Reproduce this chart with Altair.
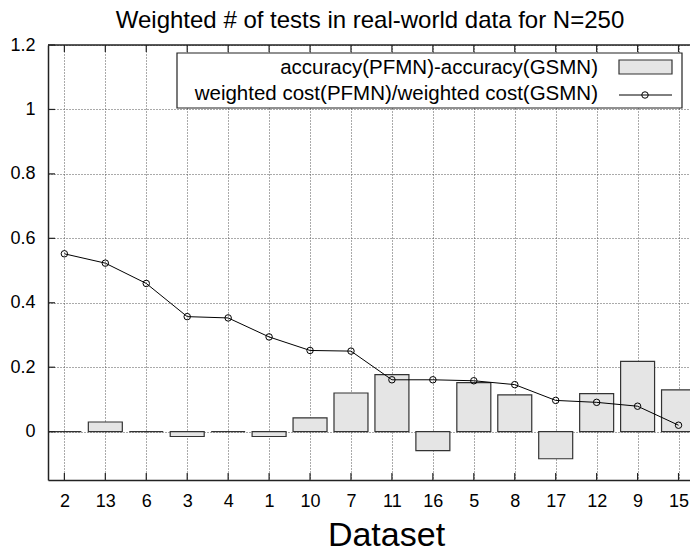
import altair as alt
import pandas as pd

# ---- data ----
datasets = ["2", "13", "6", "3", "4", "1", "10", "7", "11", "16", "5", "8", "17", "12", "9", "15"]
accuracy_diff = [0.0, 0.03, 0.0, -0.015, 0.0, -0.015, 0.043, 0.12, 0.177, -0.059,
                 0.152, 0.114, -0.084, 0.118, 0.218, 0.13]
cost_ratio = [0.552, 0.523, 0.46, 0.357, 0.353, 0.294, 0.252, 0.25, 0.161, 0.161,
              0.158, 0.146, 0.097, 0.091, 0.079, 0.02]
y_ticks = [0, 0.2, 0.4, 0.6, 0.8, 1.0, 1.2]
series_names = ["accuracy(PFMN)-accuracy(GSMN)", "weighted cost(PFMN)/weighted cost(GSMN)"]
title_text = "Weighted # of tests in real-world data for N=250"
x_title = "Dataset"

# ---- layout / style ----
W, H = 642, 435
FONT = "Liberation Sans"
BAR_HALF = 0.415
GRID = "#555555"
DARK = "#222222"
BAR_FILL = "#e5e5e5"
BAR_STROKE = "#333333"

df = pd.DataFrame({
    "idx": list(range(len(datasets))),
    "dataset": datasets,
    "acc": accuracy_diff,
    "cost": cost_ratio,
})
one = pd.DataFrame({"k": [0]})
yt_df = pd.DataFrame({"v": y_ticks})

x_scale = alt.Scale(domain=[-0.4, 15.28], nice=False, zero=False)
y_scale = alt.Scale(domain=[-0.15, 1.2], nice=False, zero=False)
label_expr = "[" + ",".join("'%s'" % d for d in datasets) + "][datum.value]"

x_axis = alt.Axis(
    values=list(range(len(datasets))), labelExpr=label_expr, title=x_title,
    grid=True, gridDash=[1, 2], gridColor=GRID, gridWidth=1, gridOpacity=1,
    ticks=False, domainColor=DARK, domainWidth=1.5,
    labelFont=FONT, labelFontSize=18, labelColor="black",
    labelBaseline="alphabetic", labelPadding=26,
    titleFont=FONT, titleFontSize=34, titleFontWeight="normal", titleColor="black",
    titleBaseline="alphabetic", titleX=338, titleY=65,
)
y_axis = alt.Axis(
    values=y_ticks, format="~g", title="",
    grid=True, gridDash=[1, 2], gridColor=GRID, gridWidth=1, gridOpacity=1,
    ticks=False, domainColor=DARK, domainWidth=1.5,
    labelFont=FONT, labelFontSize=18, labelColor="black", labelPadding=13,
)


def X(field):
    return alt.X(field, scale=x_scale, axis=x_axis, title=x_title)


def Y(field):
    return alt.Y(field, scale=y_scale, axis=y_axis, title="")


base = alt.Chart(df)

bars = base.transform_calculate(
    x0="datum.idx - %f" % BAR_HALF, x1="datum.idx + %f" % BAR_HALF
).mark_rect(fill=BAR_FILL, stroke=BAR_STROKE, strokeWidth=1.2, clip=True).encode(
    x=X("x0:Q"),
    x2="x1:Q",
    y=Y("acc:Q"),
    y2=alt.datum(0),
)

line = base.mark_line(color="black", strokeWidth=1).encode(x=X("idx:Q"), y=Y("cost:Q"))
points = base.mark_point(shape="circle", filled=False, color="black", size=42,
                         strokeWidth=1, opacity=1).encode(x=X("idx:Q"), y=Y("cost:Q"))

xticks_bottom = base.mark_rule(color=DARK, strokeWidth=1.2).encode(
    x=X("idx:Q"), y=alt.value(H), y2=alt.value(H - 7))
xticks_top = base.mark_rule(color=DARK, strokeWidth=1.2).encode(
    x=X("idx:Q"), y=alt.value(0), y2=alt.value(7))
yticks = alt.Chart(yt_df).mark_rule(color=DARK, strokeWidth=1.2).encode(
    y=Y("v:Q"), x=alt.value(0), x2=alt.value(7))
top_border = alt.Chart(one).mark_rule(color=DARK, strokeWidth=1.5).encode(
    x=alt.value(0), x2=alt.value(W), y=alt.value(0))

# ---- title as text above the plot ----
title_mark = alt.Chart(one).mark_text(align="center", baseline="alphabetic", font=FONT,
                                      fontSize=24, color="black").encode(
    x=alt.value(322), y=alt.value(-17), text=alt.value(title_text))

# ---- legend (inside plot, top right) ----
legend_box = alt.Chart(one).mark_rect(fill="white", stroke=DARK, strokeWidth=1.2).encode(
    x=alt.value(129), x2=alt.value(634), y=alt.value(8), y2=alt.value(63))
leg_text1 = alt.Chart(one).mark_text(align="right", baseline="middle", font=FONT,
                                     fontSize=20.5, color="black").encode(
    x=alt.value(550), y=alt.value(23), text=alt.value(series_names[0]))
leg_text2 = alt.Chart(one).mark_text(align="right", baseline="middle", font=FONT,
                                     fontSize=20.5, color="black").encode(
    x=alt.value(550), y=alt.value(49), text=alt.value(series_names[1]))
leg_rect = alt.Chart(one).mark_rect(fill=BAR_FILL, stroke=BAR_STROKE, strokeWidth=1.2).encode(
    x=alt.value(571), x2=alt.value(624), y=alt.value(15), y2=alt.value(29))
leg_line = alt.Chart(one).mark_rule(color="black", strokeWidth=1).encode(
    x=alt.value(571), x2=alt.value(624), y=alt.value(50))
leg_point = alt.Chart(one).mark_point(shape="circle", filled=False, color="black",
                                      size=42, strokeWidth=1, opacity=1).encode(
    x=alt.value(597), y=alt.value(50))

chart = alt.layer(
    bars, line, points, xticks_bottom, xticks_top, yticks, top_border, title_mark,
    legend_box, leg_text1, leg_text2, leg_rect, leg_line, leg_point,
).properties(
    width=W, height=H,
    padding={"left": 48, "top": 45, "right": 0, "bottom": 74},
    autosize=alt.AutoSizeParams(type="none"),
    background="white",
).configure_view(stroke="transparent")

chart.save("out.html", embed_options={"renderer": "svg", "actions": False})
